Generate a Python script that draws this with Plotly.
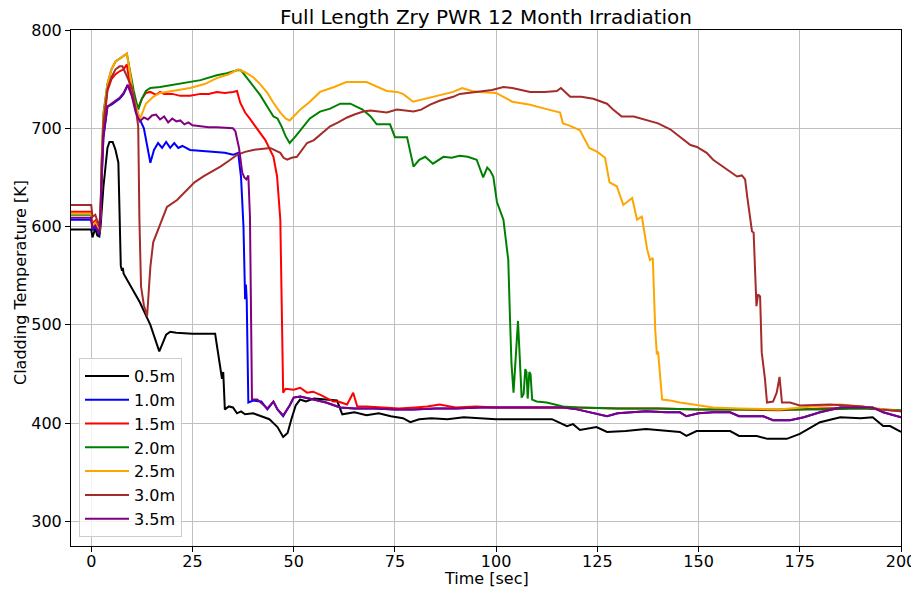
import plotly.graph_objects as go

title = "Full Length Zry PWR 12 Month Irradiation"
x_label = "Time [sec]"
y_label = "Cladding Temperature [K]"
x_ticks = [0, 25, 50, 75, 100, 125, 150, 175, 200]
y_ticks = [300, 400, 500, 600, 700, 800]

# 0.5m
t_05 = [-5, 0, 0.3, 1, 1.5, 2, 2.3, 3, 4, 4.5, 5.3, 6, 6.7, 7, 7.3, 7.6, 7.8, 8, 10, 12, 14.6, 16, 16.8, 17.5, 18.5, 19.5,
        21, 25, 30.6, 31.0, 31.5, 32.0, 32.3, 32.6, 33.0, 34, 35, 36, 37, 38, 40, 42, 44, 45, 46, 47.4, 48.5, 49.5, 50.5,
        51.6, 53, 55, 58, 60.7, 62, 65, 68, 71, 74, 77, 78.8, 81, 84, 88, 92, 96, 100, 104, 110, 113.8, 117.5, 119,
        120.7, 124.8, 127.4, 132, 137, 142, 145.4, 147, 149.5, 157.8, 160, 164.4, 167, 171.8, 175, 180, 185, 190, 193,
        195.6, 197.3, 200]
T_05 = [597, 597, 589, 598, 591, 590, 600, 640, 680, 686, 686, 678, 665, 620, 560, 555, 558, 552, 538, 523, 500, 482,
        473, 480, 490, 493, 492, 491, 491, 480, 465, 450, 445, 452, 414, 417, 416, 410, 412, 409, 410, 407, 404, 400,
        396, 386, 390, 405, 418, 424, 422, 425, 424, 423, 409, 411, 408, 410, 407, 405, 401, 404, 405, 404, 406, 405,
        404, 404, 404, 404, 397, 399, 393, 396, 391, 392, 394, 392, 391, 387, 392, 392, 387, 387, 384, 384, 389, 401,
        406, 405, 406, 397, 397, 391]

# 1.0m
t_10 = [-5, 0, 0.3, 1, 2, 2.3, 2.6, 3, 4, 5, 6, 7, 8, 9, 10, 11, 12, 13, 14, 14.6, 15.5, 16.5, 17.5, 18.5, 19.5, 20.5,
        21.5, 22.5, 24.4, 27, 31, 33, 35, 36.3, 37.0, 37.6, 38.0, 38.2, 38.4, 38.8, 40, 42, 43.5, 45, 46, 47.4, 49, 50,
        51.6, 55, 58, 61.5, 65, 70, 75, 79.5, 85, 90, 96, 105, 110, 116.5, 120, 123, 127.4, 130, 137, 142, 145.4, 147,
        150, 153.6, 157.8, 160, 166, 168.4, 172.6, 176, 180, 185, 193, 195.6, 200]
T_10 = [607, 607, 596, 600, 592, 610, 650, 690, 722, 724, 727, 730, 735, 744, 735, 722, 709, 700, 680, 665, 678, 685,
        680, 686, 680, 685, 680, 682, 678, 677, 675, 675, 673, 675, 650, 600, 526, 541, 525, 421, 423, 422, 414, 422,
        414, 407, 418, 426, 427, 424, 421, 416, 415, 415, 414, 414, 415, 415, 416, 416, 416, 416, 414, 411, 407, 410,
        412, 411, 411, 407, 410, 411, 411, 407, 407, 403, 403, 406, 411, 416, 416, 411, 406]

# 1.5m
t_15 = [-5, 0, 0.3, 1, 2, 2.3, 2.6, 3, 4, 5, 6, 7, 8, 8.8, 9.5, 10.5, 11.6, 12.5, 13.5, 14.6, 16, 17, 18, 20, 22, 24.4,
        27, 29, 31, 33, 35, 36, 36.8, 38, 39.3, 40.5, 41.7, 43, 45, 45.9, 46.7, 47.1, 47.4, 48, 50, 51.6, 53.3, 54.8,
        57, 59.8, 61, 63.2, 64.7, 65.7, 68, 72, 76, 80, 83, 86, 90, 95, 100, 110, 120, 130, 140, 150, 160, 170, 180,
        190, 200]
T_15 = [615, 615, 603, 606, 595, 615, 660, 700, 738, 750, 755, 758, 760, 765, 745, 728, 721, 730, 736, 737, 734, 737,
        735, 735, 733, 733, 735, 735, 737, 736, 737, 738, 726, 716, 709, 702, 695, 688, 671, 651, 607, 480, 431, 435,
        434, 436, 431, 432, 428, 422, 422, 419, 431, 417, 417, 416, 415, 416, 417, 419, 416, 417, 416, 416, 416, 415,
        415, 414, 414, 413, 415, 416, 412]

# 2.0m
t_20 = [-5, 0, 0.3, 1, 2, 2.3, 2.6, 3, 4, 5, 6, 7, 8, 8.8, 9.5, 10.5, 11.6, 12.5, 13.5, 14.6, 17, 20, 24.4, 27, 31,
        33.5, 36, 37, 38.5, 40, 41.7, 43.5, 45, 46, 47, 48, 49, 50.5, 51.6, 54, 56.5, 59, 61.5, 64, 67, 69, 70.5, 73.8,
        75, 78, 79.6, 81, 82.5, 84.4, 87, 89, 91, 93, 95.2, 96.8, 97.8, 98.5, 99.3, 100.2, 101.8, 103, 103.4, 103.8,
        104.3, 104.8, 105.4, 105.8, 106.3, 106.8, 107.2, 107.5, 107.8, 108.2, 108.5, 108.9, 110, 112.5, 116.5, 120,
        130, 140, 150, 160, 170, 180, 190, 200]
T_20 = [612, 612, 600, 603, 594, 614, 670, 715, 745, 760, 768, 771, 774, 776, 760, 738, 719, 730, 738, 741, 742, 744,
        747, 749, 754, 756, 759, 759, 751, 743, 734, 722, 712, 710, 702, 692, 685, 692, 698, 710, 717, 720, 725, 725,
        719, 712, 704, 704, 691, 691, 661, 668, 671, 664, 671, 670, 672, 671, 668, 650, 660, 657, 651, 625, 607, 566,
        510, 460, 431, 470, 504, 470, 426, 430, 455, 452, 425, 452, 450, 424, 422, 421, 417, 416, 415, 415, 414, 414,
        414, 414, 415, 413]

# 2.5m
t_25 = [-5, 0, 0.3, 1, 2, 2.3, 2.6, 3, 4, 5, 6, 7, 8, 8.8, 9.5, 10.5, 12, 13.5, 15.3, 17, 20, 24.4, 28, 31, 34, 36.3,
        38, 40, 41.7, 43.5, 45, 46.7, 48, 49, 50, 51.6, 54, 56.5, 60, 63, 68, 71.4, 73, 75.5, 77, 79.5, 83.7, 87, 89.4,
        91.6, 94, 96, 100, 104, 108.4, 112, 115.8, 116.5, 118, 120.7, 123, 125, 126.9, 128, 129.8, 131.4, 133.6, 134.8,
        136, 137.3, 138, 138.7, 139.3, 139.7, 140, 141, 143, 145.4, 150, 153.6, 160, 170, 178, 185, 190, 200]
T_25 = [613, 613, 601, 604, 595, 614, 668, 712, 745, 760, 768, 771, 774, 776, 758, 730, 709, 725, 732, 736, 738, 741,
        745, 751, 755, 760, 757, 752, 745, 736, 726, 716, 710, 708, 712, 719, 727, 737, 742, 747, 747, 741, 738, 737,
        735, 727, 731, 734, 737, 741, 738, 737, 736, 727, 724, 720, 716, 705, 703, 698, 680, 676, 670, 645, 641, 622,
        629, 607, 610, 577, 566, 568, 495, 470, 473, 424, 423, 421, 418, 416, 415, 414, 417, 419, 417, 412]

# 3.0m
t_30 = [-5, 0, 0.3, 1, 2, 2.3, 2.6, 3, 4, 5, 6, 7, 7.7, 8.5, 10, 11, 11.6, 11.9, 12.3, 13, 13.8, 14.6, 15.3, 17, 18.7,
        21.2, 23.7, 25.5, 27.7, 30, 31.9, 34, 36, 38, 40, 42, 44.2, 46.7, 47.5, 48.4, 49.5, 50.8, 52, 53.3, 55, 57, 59,
        61, 63.2, 65, 67.2, 69, 71.4, 73, 75.5, 77.5, 79.6, 81.5, 83.7, 86, 89.4, 91, 93, 96, 99, 101.8, 104, 108.4,
        112, 115, 116, 118.3, 121, 124, 127.4, 128.9, 131, 134, 137.3, 140, 143, 145.4, 148, 149.6, 152, 153.6, 156,
        157, 159.5, 160.7, 161.5, 162, 163.2, 163.6, 164.3, 164.7, 165.2, 165.6, 166.4, 166.9, 168.4, 169.3, 170,
        170.6, 172.6, 175, 182.5, 190.6, 194.8, 200]
T_30 = [622, 622, 610, 612, 600, 618, 665, 705, 740, 752, 760, 763, 763, 755, 742, 720, 702, 607, 539, 520, 509, 559,
        584, 602, 620, 627, 638, 645, 651, 656, 661, 667, 673, 676, 678, 679, 680, 675, 670, 668, 670, 671, 678, 685,
        688, 695, 702, 706, 711, 714, 717, 718, 717, 716, 719, 718, 717, 719, 724, 728, 732, 735, 736, 737, 739, 742,
        741, 737, 737, 738, 741, 732, 732, 730, 725, 719, 712, 712, 708, 705, 699, 691, 683, 681, 675, 668, 661, 658,
        651, 652, 648, 631, 595, 594, 519, 531, 529, 472, 445, 421, 422, 431, 447, 421, 421, 418, 419, 417, 414, 412]

# 3.5m
t_35 = [-5, 0, 0.3, 1, 2, 2.3, 2.6, 3, 4, 5, 6, 7, 8, 9, 10, 11, 12, 13, 14, 15, 16, 17, 18, 19, 20, 21, 22, 23, 24,
        25, 27, 29, 31, 33.5, 35, 35.6, 36.5, 37.3, 37.8, 38.3, 38.8, 39.2, 39.7, 41, 43.5, 45, 46, 47.4, 49, 50, 51.6,
        55, 58, 61.5, 65, 70, 75, 79.5, 85, 90, 96, 105, 110, 116.5, 120, 123, 127.4, 130, 137, 142, 145.4, 147, 150,
        153.6, 157.8, 160, 166, 168.4, 172.6, 176, 180, 185, 193, 195.6, 200]
T_35 = [609, 609, 598, 601, 593, 612, 652, 692, 722, 725, 728, 731, 736, 744, 733, 716, 707, 711, 709, 713, 714, 709,
        712, 706, 710, 707, 708, 704, 706, 703, 702, 701, 701, 700, 700, 697, 680, 655, 650, 648, 652, 610, 424, 424,
        415, 422, 414, 408, 418, 426, 427, 424, 421, 416, 415, 415, 414, 414, 415, 415, 416, 416, 416, 416, 414, 411,
        407, 410, 412, 411, 411, 407, 410, 411, 411, 407, 407, 403, 403, 406, 411, 416, 416, 411, 406]

series = [
    ("0.5m", t_05, T_05, "black"),
    ("1.0m", t_10, T_10, "blue"),
    ("1.5m", t_15, T_15, "red"),
    ("2.0m", t_20, T_20, "green"),
    ("2.5m", t_25, T_25, "orange"),
    ("3.0m", t_30, T_30, "brown"),
    ("3.5m", t_35, T_35, "purple"),
]

fig = go.Figure()
for name, t, T, c in series:
    fig.add_trace(go.Scatter(x=t, y=T, mode="lines", name=name, legendgroup=name,
                             line=dict(color=c, width=2)))

font = "DejaVu Sans"
# the page body has an 8px margin, so the figure is 8px smaller than the window
W, H = 911, 581
ML, MR, MT, MB = 63, 18, 22, 43
pw, ph = W - ML - MR, H - MT - MB

fig.update_layout(
    width=W, height=H,
    margin=dict(l=ML, r=MR, t=MT, b=MB, autoexpand=False),
    paper_bgcolor="white", plot_bgcolor="white",
    font=dict(family=font, size=16, color="black"),
    title=dict(text=title, x=(ML + pw / 2) / W, xref="container", xanchor="center",
               y=1 - 9 / H, yref="container", yanchor="middle",
               font=dict(family=font, size=20, color="black")),
    legend=dict(x=8 / pw, y=9 / ph, xanchor="left", yanchor="bottom",
                bgcolor="rgba(255,255,255,0.8)", bordercolor="#cccccc", borderwidth=1,
                font=dict(family=font, size=16), tracegroupgap=0, itemwidth=44),
    showlegend=True,
    annotations=[
        dict(text=x_label, xref="paper", yref="paper", x=0.5, y=-(570 - (MT + ph)) / ph,
             xanchor="center", yanchor="middle", showarrow=False, font=dict(family=font, size=16)),
        dict(text=y_label, xref="paper", yref="paper", x=-(ML - 12) / pw, y=(MT + ph - 275) / ph,
             xanchor="center", yanchor="middle", textangle=-90, showarrow=False,
             font=dict(family=font, size=16)),
    ],
)
fig.update_xaxes(range=[-5, 200], tickvals=x_ticks, ticks="outside", ticklen=5, tickcolor="black",
                 showline=True, mirror=True, linecolor="black", linewidth=1, automargin=False,
                 ticklabelstandoff=-4,
                 showgrid=True, gridcolor="#c0c0c0", gridwidth=1, zeroline=False)
fig.update_yaxes(range=[275, 800], tickvals=y_ticks, ticks="outside", ticklen=5, tickcolor="black",
                 showline=True, mirror=True, linecolor="black", linewidth=1, automargin=False,
                 showgrid=True, gridcolor="#c0c0c0", gridwidth=1, zeroline=False)

fig.write_html("out.html")
